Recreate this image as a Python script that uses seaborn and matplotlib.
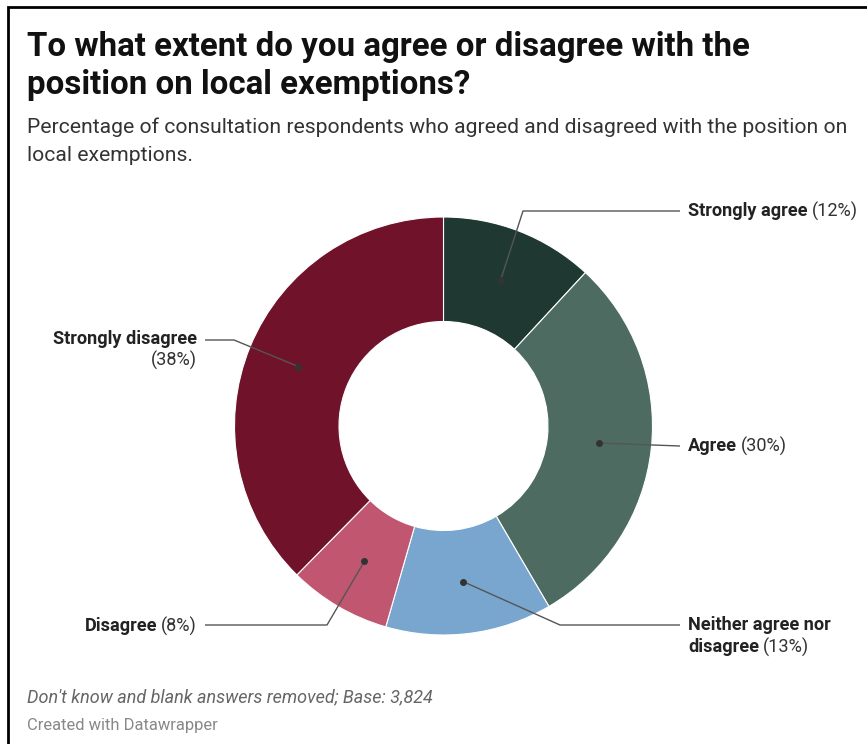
import matplotlib
matplotlib.use("Agg")
import matplotlib.pyplot as plt
from matplotlib.patches import Rectangle
import seaborn as sns
import numpy as np

# ---- data ----
categories = ["Strongly agree", "Agree", "Neither agree nor disagree", "Disagree", "Strongly disagree"]
values = [12, 30, 13, 8, 38]
colors = ["#1f3932", "#4d6b61", "#79a6cf", "#c05670", "#71122b"]

title_lines = ["To what extent do you agree or disagree with the",
               "position on local exemptions?"]
subtitle_lines = ["Percentage of consultation respondents who agreed and disagreed with the position on",
                  "local exemptions."]
note = "Don't know and blank answers removed; Base: 3,824"
credit = "Created with Datawrapper"

sns.set_theme(style="white")
plt.rcParams['font.family'] = ['Roboto', 'DejaVu Sans']

W, H = 867, 744
fig = plt.figure(figsize=(W / 100, H / 100), dpi=100)
ax = fig.add_axes([0, 0, 1, 1])

def Y(y):
    return H - y

cx, cy, R = 443.5, Y(426), 209
wedges, _ = ax.pie(values, colors=colors, startangle=90, counterclock=False,
                   center=(cx, cy), radius=R, frame=True,
                   wedgeprops=dict(width=R * 0.5, edgecolor="white", linewidth=0.8))
ax.set_xlim(0, W)
ax.set_ylim(0, H)
ax.set_aspect("equal")
ax.axis("off")

# dots at the middle of each ring segment
dots = []
for w in wedges:
    th = np.deg2rad((w.theta1 + w.theta2) / 2)
    r = R * 0.75
    dots.append((cx + r * np.cos(th), cy + r * np.sin(th)))

# leader line layout (pixel coords, y from top)
paths = [
    [(523, 211), (680, 211)],
    [(680, 446)],
    [(560, 625), (680, 625)],
    [(327, 625), (205, 625)],
    [(234, 340), (205, 340)],
]
for (dx, dy), p in zip(dots, paths):
    xs = [dx] + [q[0] for q in p]
    ys = [dy] + [Y(q[1]) for q in p]
    ax.plot(xs, ys, color="#555555", lw=1.0, solid_capstyle="butt", zorder=3)
    ax.plot([dx], [dy], "o", color="#333333", ms=4, zorder=4)

fig.canvas.draw()
rend = fig.canvas.get_renderer()
FS = 13.1

def width_px(t):
    return t.get_window_extent(renderer=rend).width

def left_pair(x, y, bold, reg):
    t = ax.text(x, Y(y), bold, fontsize=FS, fontweight="bold", color="#222222",
                ha="left", va="center")
    wpx = width_px(t)
    ax.text(x + wpx + 4, Y(y), reg, fontsize=FS, color="#333333", ha="left", va="center")

def right_pair(x, y, bold, reg):
    t = ax.text(x, Y(y), reg, fontsize=FS, color="#333333", ha="right", va="center")
    wpx = width_px(t)
    ax.text(x - wpx - 4, Y(y), bold, fontsize=FS, fontweight="bold", color="#222222",
            ha="right", va="center")

pct = [f"({v}%)" for v in values]
left_pair(688, 211, categories[0], pct[0])
left_pair(688, 446, categories[1], pct[1])
ax.text(688, Y(625), "Neither agree nor", fontsize=FS, fontweight="bold", color="#222222",
        ha="left", va="center")
left_pair(688, 647, "disagree", pct[2])
right_pair(197, 626, categories[3], pct[3])
ax.text(197, Y(339), categories[4], fontsize=FS, fontweight="bold", color="#222222",
        ha="right", va="center")
ax.text(197, Y(360), pct[4], fontsize=FS, color="#333333", ha="right", va="center")

# titles
for line, yb in zip(title_lines, [56, 94]):
    fig.text(27 / W, 1 - yb / H, line, fontsize=23.8, fontweight="bold", color="#111111",
             ha="left", va="baseline")
for line, yb in zip(subtitle_lines, [133, 161]):
    fig.text(27 / W, 1 - yb / H, line, fontsize=15.2, color="#333333",
             ha="left", va="baseline")
fig.text(27 / W, 1 - 702 / H, note, fontsize=13.0, style="italic", color="#666666",
         ha="left", va="baseline")
fig.text(27 / W, 1 - 730 / H, credit, fontsize=11.9, color="#888888",
         ha="left", va="baseline")

# frame border (left and top visible)
fig.patches.append(Rectangle((8 / W, -0.1), 1.2, 1 - 7 / H + 0.1, transform=fig.transFigure,
                             fill=False, edgecolor="black", linewidth=2, zorder=10))

fig.savefig("out.png", dpi=100)
